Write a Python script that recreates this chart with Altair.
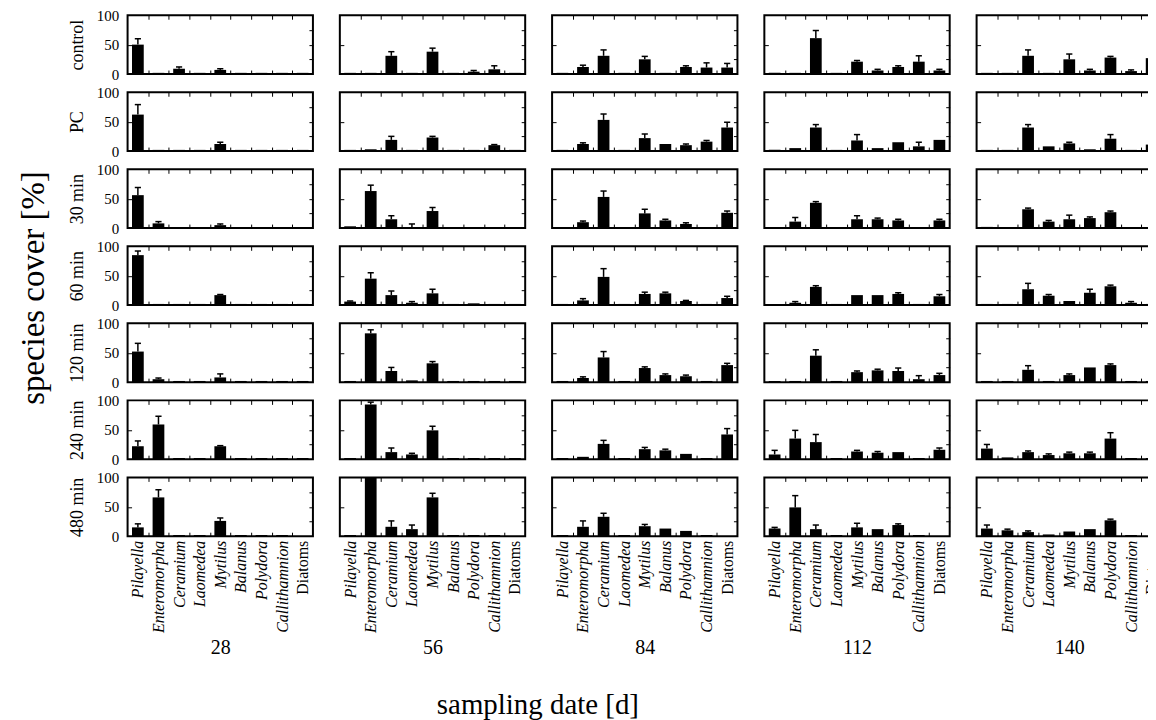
import json
import altair as alt
import pandas as pd

species = ["Pilayella", "Enteromorpha", "Ceramium", "Laomedea", "Mytilus",
           "Balanus", "Polydora", "Callithamnion", "Diatoms"]
days = [28, 56, 84, 112, 140]
treatments = ["control", "PC", "30 min", "60 min", "120 min", "240 min", "480 min"]

# mean cover [%] per treatment row (order of treatments), per species (order of species)
cover_d28 = [[50, 2, 9, 2, 7, 2, 2, 2, 2],
             [62, 2, 2, 2, 12, 2, 2, 2, 2],
             [56, 8, 0, 0, 5, 0, 0, 0, 0],
             [85, 2, 2, 2, 17, 2, 2, 2, 2],
             [52, 5, 2, 2, 8, 2, 2, 2, 2],
             [22, 59, 2, 2, 22, 2, 2, 2, 2],
             [15, 66, 2, 2, 26, 2, 2, 2, 0]]
err_d28 = [[10, 0, 3, 0, 2, 0, 0, 0, 0],
           [17, 0, 0, 0, 3, 0, 0, 0, 0],
           [13, 3, 0, 0, 2, 0, 0, 0, 0],
           [7, 0, 0, 0, 1, 0, 0, 0, 0],
           [14, 2, 0, 0, 6, 0, 0, 0, 0],
           [9, 14, 0, 0, 1, 0, 0, 0, 0],
           [6, 13, 0, 0, 5, 0, 0, 0, 0]]

cover_d56 = [[2, 2, 31, 2, 38, 2, 4, 8, 2],
             [2, 3, 19, 2, 23, 2, 2, 10, 2],
             [3, 63, 15, 1, 29, 0, 1, 0, 0],
             [6, 45, 17, 4, 20, 2, 3, 2, 2],
             [2, 83, 19, 3, 32, 2, 2, 2, 2],
             [2, 93, 12, 8, 49, 2, 2, 2, 2],
             [2, 100, 16, 12, 66, 2, 2, 2, 0]]
err_d56 = [[0, 0, 7, 0, 6, 0, 2, 6, 0],
           [0, 0, 6, 0, 2, 0, 0, 1, 0],
           [0, 10, 6, 6, 6, 0, 0, 0, 0],
           [1, 10, 7, 2, 7, 0, 0, 0, 0],
           [0, 6, 6, 0, 3, 0, 0, 0, 0],
           [0, 4, 7, 2, 7, 0, 0, 0, 0],
           [0, 0, 10, 7, 7, 0, 0, 0, 0]]

cover_d84 = [[2, 12, 31, 2, 25, 2, 12, 11, 11],
             [2, 12, 53, 2, 22, 12, 10, 16, 40],
             [0, 10, 53, 0, 25, 13, 7, 0, 26],
             [2, 8, 48, 2, 19, 20, 7, 2, 12],
             [2, 7, 42, 2, 24, 12, 10, 2, 29],
             [2, 4, 26, 2, 17, 15, 9, 2, 42],
             [2, 16, 33, 2, 17, 13, 9, 2, 0]]
err_d84 = [[0, 3, 10, 0, 5, 0, 2, 8, 7],
           [0, 2, 10, 0, 7, 0, 2, 2, 9],
           [0, 2, 10, 0, 7, 2, 2, 0, 3],
           [0, 3, 14, 0, 3, 2, 1, 0, 3],
           [0, 2, 10, 0, 2, 2, 2, 0, 3],
           [0, 0, 6, 0, 3, 2, 0, 0, 10],
           [0, 10, 6, 0, 3, 0, 0, 0, 0]]

cover_d112 = [[2, 2, 61, 2, 21, 6, 12, 21, 6],
              [2, 5, 40, 2, 18, 5, 15, 8, 19],
              [0, 11, 43, 0, 15, 15, 13, 0, 13],
              [2, 4, 31, 2, 17, 17, 19, 2, 15],
              [2, 2, 45, 2, 17, 20, 19, 5, 12],
              [8, 35, 29, 2, 13, 11, 12, 2, 16],
              [13, 49, 12, 2, 15, 12, 19, 2, 0]]
err_d112 = [[0, 0, 13, 0, 2, 2, 2, 10, 2],
            [0, 0, 5, 0, 10, 0, 0, 7, 0],
            [0, 7, 2, 0, 6, 2, 2, 0, 2],
            [0, 2, 2, 0, 0, 0, 2, 0, 3],
            [0, 0, 10, 0, 2, 2, 5, 6, 3],
            [7, 14, 13, 0, 2, 2, 0, 0, 3],
            [2, 20, 7, 0, 7, 0, 2, 0, 0]]

cover_d140 = [[2, 2, 31, 2, 25, 6, 28, 5, 27],
              [2, 2, 40, 8, 13, 3, 21, 2, 11],
              [2, 0, 32, 11, 15, 17, 27, 0, 0],
              [2, 2, 27, 16, 7, 21, 32, 4, 2],
              [2, 2, 21, 2, 12, 25, 29, 2, 2],
              [18, 3, 12, 7, 10, 10, 35, 2, 2],
              [13, 10, 7, 3, 8, 12, 27, 2, 0]]
err_d140 = [[0, 0, 10, 0, 9, 2, 2, 2, 10],
            [0, 0, 5, 0, 2, 0, 7, 0, 7],
            [0, 0, 2, 2, 7, 2, 2, 0, 0],
            [0, 0, 10, 2, 0, 6, 2, 2, 0],
            [0, 0, 7, 0, 2, 0, 2, 0, 0],
            [7, 0, 2, 2, 2, 2, 10, 0, 0],
            [6, 2, 2, 0, 0, 0, 2, 0, 0]]

covers = [cover_d28, cover_d56, cover_d84, cover_d112, cover_d140]
errs = [err_d28, err_d56, err_d84, err_d112, err_d140]

records = []
for day, cov, er in zip(days, covers, errs):
    for t, crow, erow in zip(treatments, cov, er):
        for i, (sp, v, e) in enumerate(zip(species, crow, erow)):
            records.append({"day": day, "treatment": t, "species": sp, "i": i,
                            "value": v, "err": e, "top": v + e})
df = pd.DataFrame(records)

W, H = 186, 59
FONT = "Liberation Serif"
n = len(species)
names_js = json.dumps(species)
diatom_idx = species.index("Diatoms")

xscale = alt.Scale(domain=[-0.5, n - 0.5], nice=False, zero=False)
yscale = alt.Scale(domain=[0, 100], nice=False)
xvals = [k * 0.5 for k in range(0, 2 * (n - 1) + 1)]


def make_xaxis(show_labels, title):
    kw = dict(
        values=xvals, ticks=False, tickSize=0, domain=False,
        grid=True, gridColor="black", gridWidth=1,
        gridDash=[4, H - 8, 4, 400],
        gridOpacity={"condition": {"test": "datum.value % 1 != 0", "value": 1}, "value": 0},
        labels=show_labels, labelOverlap=False, labelFlush=False,
        labelExpr=f"datum.value % 1 == 0 ? {names_js}[datum.value] : ''",
        labelAngle=270, labelAlign="right", labelBaseline="middle",
        labelFont=FONT, labelFontSize=16, labelPadding=4, labelColor="black",
        labelFontStyle={"condition": {"test": f"datum.value == {diatom_idx}", "value": "normal"},
                        "value": "italic"},
        title=title, titleFont=FONT, titleFontSize=20, titleFontWeight="normal",
        titleColor="black", titlePadding=5,
    )
    return alt.Axis(**kw)


def make_yaxis(show_labels, title):
    kw = dict(
        values=[0, 25, 50, 75, 100], ticks=False, tickSize=0, domain=False,
        grid=True, gridColor="black", gridWidth=1,
        gridDash={"condition": {"test": "datum.value == 50", "value": [4, W - 8, 4, 400]},
                  "value": [0, W - 4, 4, 400]},
        gridOpacity={"condition": {"test": "datum.value > 0 && datum.value < 100", "value": 1},
                     "value": 0},
        labels=show_labels, labelOverlap=False, labelFlush=False,
        labelExpr="datum.value % 50 == 0 ? datum.label : ''",
        labelFont=FONT, labelFontSize=15, labelPadding=9, labelColor="black",
        title=title, titleFont=FONT, titleFontSize=18, titleFontWeight="normal",
        titleColor="black", titlePadding=10,
    )
    return alt.Axis(**kw)


panels = []
for r, t in enumerate(treatments):
    for c, day in enumerate(days):
        sub = df[(df["day"] == day) & (df["treatment"] == t)]
        last = r == len(treatments) - 1
        xa = make_xaxis(last, str(day) if last else None)
        ya = make_yaxis(c == 0, t if c == 0 else None)
        base = alt.Chart(sub)
        bars = base.transform_calculate(
            x0="datum.i - 0.285", x1="datum.i + 0.285", zero="0"
        ).mark_bar(color="black", strokeWidth=0).encode(
            x=alt.X("x0:Q", scale=xscale, axis=xa),
            x2="x1:Q",
            y=alt.Y("value:Q", scale=yscale, axis=ya),
            y2="zero:Q",
        )
        stems = base.transform_filter("datum.err > 0").mark_rule(
            color="black", strokeWidth=1.5
        ).encode(
            x=alt.X("i:Q", scale=xscale, axis=xa),
            y=alt.Y("value:Q", scale=yscale, axis=ya),
            y2="top:Q",
        )
        caps = base.transform_filter("datum.err > 0").transform_calculate(
            c0="datum.i - 0.15", c1="datum.i + 0.15"
        ).mark_rule(color="black", strokeWidth=1.5).encode(
            x=alt.X("c0:Q", scale=xscale, axis=xa),
            x2="c1:Q",
            y=alt.Y("top:Q", scale=yscale, axis=ya),
        )
        panels.append(alt.layer(bars, stems, caps).properties(width=W, height=H))

grid = alt.concat(
    *panels, columns=5, spacing={"row": 18.3, "column": 27}, bounds="flush"
).properties(
    title=alt.TitleParams(text="species cover [%]", orient="left", anchor="middle",
                          font=FONT, fontSize=33, fontWeight="normal", color="black",
                          offset=16, dx=45)
)

chart = alt.vconcat(grid).properties(
    title=alt.TitleParams(text="sampling date [d]", orient="bottom", anchor="middle",
                          font=FONT, fontSize=29, fontWeight="normal", color="black",
                          offset=33, dx=-53),
    padding={"left": 10, "top": -2, "right": -15, "bottom": 0},
).configure_view(stroke="black", strokeWidth=2)

chart.save("out.html", embed_options={"renderer": "svg", "actions": False})
